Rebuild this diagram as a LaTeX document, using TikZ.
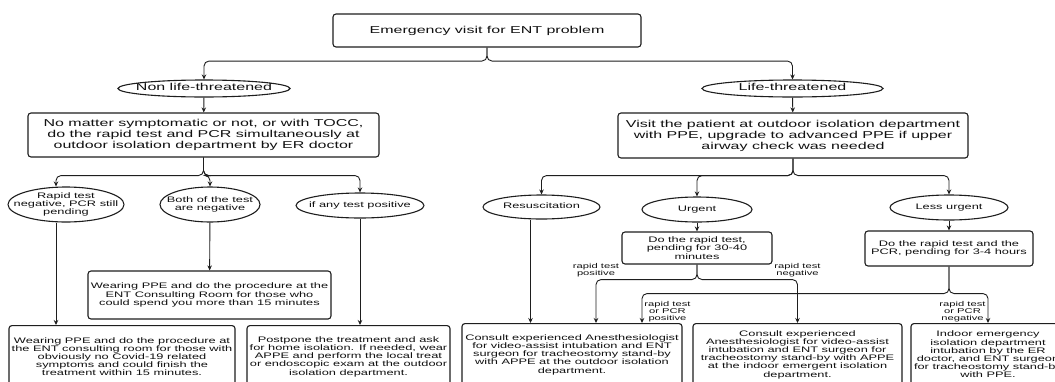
\documentclass[tikz,border=0pt]{standalone}
\usepackage{fontspec}
\setmainfont{Liberation Sans}[FakeStretch=1.6]
\usetikzlibrary{arrows.meta,positioning,shapes.geometric}
\definecolor{Ink}{HTML}{111111}
\definecolor{Line}{HTML}{1E1E1E}
\newcommand{\ovl}[1]{\makebox[0pt]{\begin{tabular}{@{}c@{}}#1\end{tabular}}}
\tikzset{box/.style={draw=Line,line width=1.1pt,rounded corners=3pt,align=center,
    inner sep=2pt,text=Ink,font=\fontsize{8}{8.2}\selectfont},
  bigbox/.style={box,font=\fontsize{10}{11}\selectfont},
  lowbox/.style={box,anchor=north,minimum height=62pt},
  oval/.style={draw=Line,line width=1.1pt,ellipse,inner sep=0pt,text=Ink,
    font=\fontsize{8}{8}\selectfont},
  bigoval/.style={oval,font=\fontsize{10}{10}\selectfont},
  edge/.style={-{Stealth[length=5pt,width=4.5pt]},line width=0.9pt,draw=Line,
    rounded corners=5pt},
  tag/.style={align=center,inner sep=2pt,text=Ink,font=\fontsize{7}{7}\selectfont}}
\begin{document}
\begin{tikzpicture}[x=1pt,y=-1pt]
  \useasboundingbox (0,0) rectangle (1055,381);
  \clip (0,0) rectangle (1055,381);
  \fill[white] (0,0) rectangle (1055,381);
  % top levels
  \node[bigbox,minimum width=308pt,minimum height=33pt] (top) at (487,30.5) {Emergency visit for ENT problem};
  \node[bigoval,minimum width=172pt,minimum height=17pt] (nonlife) at (204,88.5) {\ovl{Non life-threatened}};
  \node[bigoval,minimum width=181pt,minimum height=17pt] (life) at (792.5,88.5) {\ovl{Life-threatened}};
  \node[bigbox,minimum width=351pt,minimum height=44pt] (leftbox) at (203.5,135) {No matter symptomatic or not, or with TOCC,\\do the rapid test and PCR simultaneously at\\outdoor isolation department by ER doctor};
  \node[bigbox,minimum width=350pt,minimum height=45pt] (rightbox) at (793,135.5) {Visit the patient at outdoor isolation department\\with PPE, upgrade to advanced PPE if upper\\airway check was needed};
  % non life-threatened branch
  \node[oval,minimum width=116pt,minimum height=35pt] (ngpend) at (66,204.5) {\ovl{Rapid test\\negative, PCR still\\pending}};
  \node[oval,minimum width=100pt,minimum height=35pt] (bothneg) at (210,204.5) {\ovl{Both of the test\\are negative}};
  \node[oval,minimum width=128pt,minimum height=25pt] (anypos) at (360,205.5) {\ovl{if any test positive}};
  \node[box,minimum width=243pt,minimum height=48pt] (consroom) at (209.5,295) {Wearing PPE and do the procedure at the\\ENT Consulting Room for those who\\could spend you more than 15 minutes};
  \node[lowbox,minimum width=226pt] (quick) at (122,325) {Wearing PPE and do the procedure at\\the ENT consulting room for those with\\obviously no Covid-19 related\\symptoms and could finish the\\treatment within 15 minutes.};
  \node[lowbox,minimum width=203pt] (postpone) at (348.5,325) {Postpone the treatment and ask\\for home isolation. If needed, wear\\APPE and perform the local treat\\or endoscopic exam at the outdoor\\isolation department.};
  % life-threatened branch
  \node[oval,minimum width=117pt,minimum height=24pt] (resus) at (541.5,207) {\ovl{Resuscitation}};
  \node[oval,minimum width=110pt,minimum height=25pt] (urgent) at (697,209.5) {\ovl{Urgent}};
  \node[oval,minimum width=118pt,minimum height=25pt] (less) at (949,207.5) {\ovl{Less urgent}};
  \node[box,minimum width=150pt,minimum height=32pt] (rapid) at (697,248) {Do the rapid test,\\pending for 30-40\\minutes};
  \node[box,minimum width=168pt,minimum height=35pt] (rapidpcr) at (949,248.5) {Do the rapid test and the\\PCR, pending for 3-4 hours};
  \node[lowbox,minimum width=220pt] (outdoor) at (572,323) {Consult experienced Anesthesiologist\\for video-assist intubation and ENT\\surgeon for tracheostomy stand-by\\with APPE at the outdoor isolation\\department.};
  \node[lowbox,minimum width=209pt] (indoor) at (797.5,323) {Consult experienced\\Anesthesiologist for video-assist\\intubation and ENT surgeon for\\tracheostomy stand-by with APPE\\at the indoor emergent isolation\\department.};
  \node[lowbox,minimum width=154pt] (erdoc) at (988,323) {Indoor emergency\\isolation department\\intubation by the ER\\doctor, and ENT surgeon\\for tracheostomy stand-by\\with PPE.};
  % connectors
  \draw[edge] (top.south) -- ++(0,13.5) -| (nonlife.north);
  \draw[edge] (top.south) -- ++(0,13.5) -| (life.north);
  \draw[edge] (nonlife) -- (leftbox);
  \draw[edge] (life) -- (rightbox);
  \draw[edge] (leftbox.south) -- ++(0,18) -| ([xshift=-10pt]ngpend.north);
  \draw[edge] (leftbox.south) -- ++(0,18) -| (bothneg.north);
  \draw[edge] (leftbox.south) -- ++(0,18) -| (anypos.north);
  \draw[edge] (rightbox.south) -- ++(0,17) -| (resus.north);
  \draw[edge] (rightbox.south) -- ++(0,17) -| (urgent.north);
  \draw[edge] (rightbox.south) -- ++(0,17) -| (less.north);
  \draw[edge] ([xshift=-10pt]ngpend.south) -- ([xshift=-10pt]ngpend.south |- quick.north);
  \draw[edge] (bothneg) -- (consroom);
  \draw[edge] (anypos.south) -- (anypos.south |- postpone.north);
  \draw[edge] ([xshift=-11pt]resus.south) -- ([xshift=-11pt]resus.south |- outdoor.north);
  \draw[edge] (urgent) -- (rapid);
  \draw[edge] (less) -- (rapidpcr);
  \draw[edge] (rapid.south) -- ++(0,15) -| node[tag,above]{rapid test\\positive} ([xshift=24pt]outdoor.north);
  \draw[edge] (rapid.south) -- ++(0,15) -| node[tag,above]{rapid test\\negative} (indoor.north);
  \draw[edge] (rapidpcr.south) -- ++(0,27) -| node[tag,right,pos=0.8]{rapid test\\or PCR\\positive} ([xshift=70pt]outdoor.north);
  \draw[edge] (rapidpcr.south) -- ++(0,27) -| node[tag,left,pos=0.8]{rapid test\\or PCR\\negative} (erdoc.north);
\end{tikzpicture}
\end{document}
